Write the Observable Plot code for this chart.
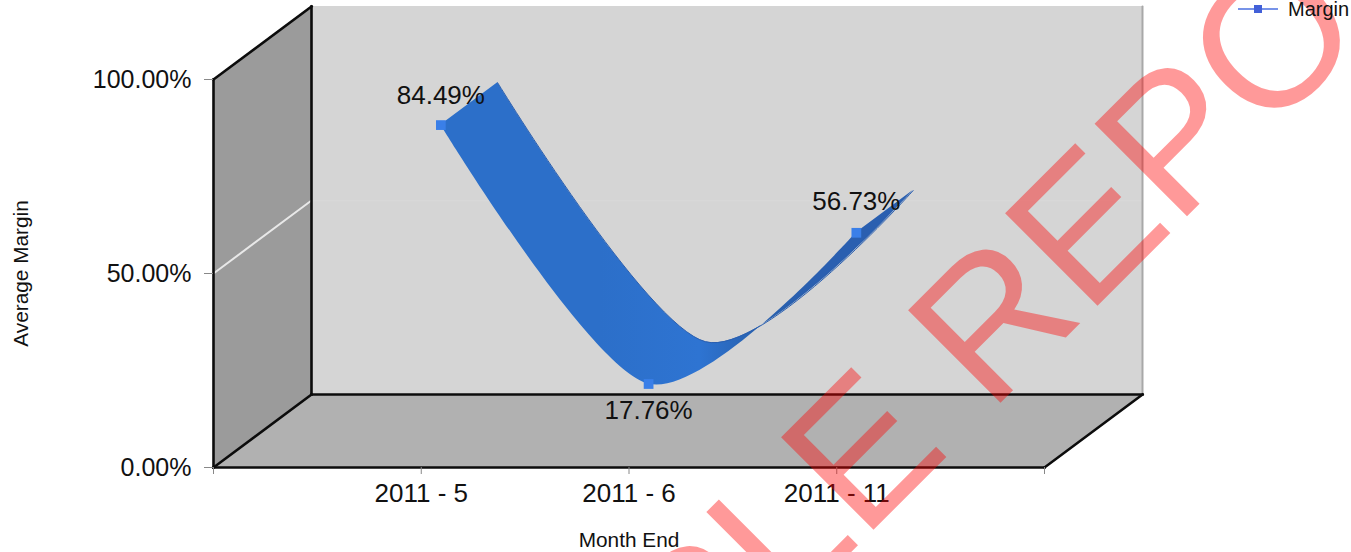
<!DOCTYPE html>
<html>
<head>
<meta charset="utf-8">
<script src="https://cdn.jsdelivr.net/npm/d3@7"></script>
<script src="https://cdn.jsdelivr.net/npm/@observablehq/plot@0.6"></script>
<style>
html,body{margin:0;padding:0;background:#fff;}
#chart{position:relative;width:1351px;height:552px;overflow:hidden;font-family:"Liberation Sans",Arial,sans-serif;}
#legend{position:absolute;left:1238px;top:-2px;height:22px;display:flex;align-items:center;font-size:20px;color:#111;}
#legend svg{margin-right:10px;}
</style>
</head>
<body>
<div id="chart"></div>
<script>
const categories = ["2011 - 5", "2011 - 6", "2011 - 11"];
const positions = [1, 2, 3];
const margin = [84.49, 17.76, 56.73];
const labels = ["84.49%", "17.76%", "56.73%"];
const labelShift = [7.5, -7, 8];
const yTicks = [0, 50, 100];
const xTicks = [0, 1, 2, 3, 4];
const seriesName = "Margin";
const watermark = "SAMPLE REPORT";

// Depth of the 3D box, in scale units
const depthX = 0.4717, depthY = 18.8;
const ribbonFront = 0.2, ribbonBack = 0.78;
const xMax = 4, yMax = 100;

const points = margin.map((v, i) => ({
  x1: positions[i] + depthX * ribbonFront,
  y1: v + depthY * ribbonFront,
  x2: positions[i] + depthX * ribbonBack,
  y2: v + depthY * ribbonBack,
  label: labels[i],
  ly: v + depthY * ribbonFront + labelShift[i]
}));

const edges = [
  [[0, 0], [0, yMax]],
  [[0, yMax], [depthX, yMax + depthY]],
  [[depthX, depthY], [depthX, yMax + depthY]],
  [[0, 0], [depthX, depthY]],
  [[depthX, depthY], [xMax + depthX, depthY]],
  [[0, 0], [xMax, 0]],
  [[xMax, 0], [xMax + depthX, depthY]]
].flatMap((seg, i) => seg.map(([x, y]) => ({x, y, i})));

const defs = () => {
  const s = d3.create("svg:defs");
  const g = s.append("linearGradient").attr("id", "ribbon").attr("gradientUnits", "userSpaceOnUse")
    .attr("x1", 600).attr("x2", 820).attr("y1", 0).attr("y2", 0);
  g.append("stop").attr("offset", 0).attr("stop-color", "#2c6fc9");
  g.append("stop").attr("offset", 0.45).attr("stop-color", "#2e74d2");
  g.append("stop").attr("offset", 0.72).attr("stop-color", "#2860ad");
  g.append("stop").attr("offset", 1).attr("stop-color", "#2a5fb0");
  return s.node();
};

const curve = {curve: "cardinal", tension: 0.15};

const plot = Plot.plot({
  width: 1351,
  height: 552,
  marginLeft: 213,
  marginRight: 307,
  marginTop: 79,
  marginBottom: 85,
  style: {fontFamily: "'Liberation Sans', Arial, sans-serif", background: "#fff", color: "#111", overflow: "hidden"},
  x: {domain: [0, xMax], label: null},
  y: {domain: [0, yMax], label: null},
  marks: [
    defs,
    // back wall
    Plot.areaY([0, xMax], {x: d => d + depthX, y1: depthY, y2: yMax + depthY, fill: "#d5d5d5"}),
    // left wall
    Plot.areaY([0, depthX], {x: d => d, y1: d => d / depthX * depthY, y2: d => yMax + d / depthX * depthY, fill: "#9b9b9b"}),
    // floor
    Plot.areaX([0, depthY], {y: d => d, x1: d => d / depthY * depthX, x2: d => xMax + d / depthY * depthX, fill: "#b1b1b1"}),
    // 50% gridline on the wall
    Plot.line([0, depthX], {x: d => d, y: d => 50 + d / depthX * depthY, stroke: "#e8e8e8", strokeWidth: 2}),
    Plot.line([depthX, xMax + depthX], {x: d => d, y: 50 + depthY, stroke: "#d9d9d9", strokeWidth: 1}),
    // right edge of back wall
    Plot.line([depthY, yMax + depthY], {x: xMax + depthX, y: d => d, stroke: "#a8a8a8", strokeWidth: 2}),
    Plot.line(edges, {x: "x", y: "y", z: "i", stroke: "#0c0c0c", strokeWidth: 2.6, strokeLinecap: "square"}),
    Plot.axisY({ticks: yTicks, tickFormat: d => d.toFixed(2) + "%", tickSize: 9, tickPadding: 13, fontSize: 25, stroke: "#888", label: null, marginLeft: 213}),
    Plot.axisX({ticks: xTicks, tickFormat: d => categories[d - 1] ?? "", tickSize: 7, tickPadding: 9, fontSize: 26, stroke: "#888", label: null, marginBottom: 85}),
    Plot.text(["Average Margin"], {frameAnchor: "left", textAnchor: "middle", dx: -192, rotate: -90, fontSize: 20.8, fill: "#111", text: d => d}),
    Plot.text(["Month End"], {frameAnchor: "bottom", dy: 79, fontSize: 20.8, fill: "#111", text: d => d}),
    // ribbon
    Plot.area(points, {x1: "x1", y1: "y1", x2: "x2", y2: "y2", ...curve, fill: "url(#ribbon)"}),
    Plot.line(points, {x: "x2", y: "y2", ...curve, stroke: "#2a5fb0", strokeWidth: 1}),
    Plot.dot(points, {x: "x1", y: "y1", symbol: "square", r: 5.5, fill: "#3a7fe8"}),
    Plot.text(points, {x: "x1", y: "ly", text: "label", fontSize: 26, fill: "#111"}),
    // watermark
    Plot.text([watermark], {x: [3.675], y: [10.6], text: d => d, rotate: -45, fontSize: 190, fill: "#f00", fillOpacity: 0.4, textAnchor: "middle", lineAnchor: "bottom"})
  ]
});

document.getElementById("chart").append(plot);
const legend = document.createElement("div");
legend.id = "legend";
legend.innerHTML = `<svg width="40" height="12"><line x1="0" x2="40" y1="6" y2="6" stroke="#4a6fe0" stroke-width="1.5"/><rect x="16" y="2" width="8" height="8" fill="#4260d8"/></svg><span>${seriesName}</span>`;
document.getElementById("chart").append(legend);
</script>
</body>
</html>
